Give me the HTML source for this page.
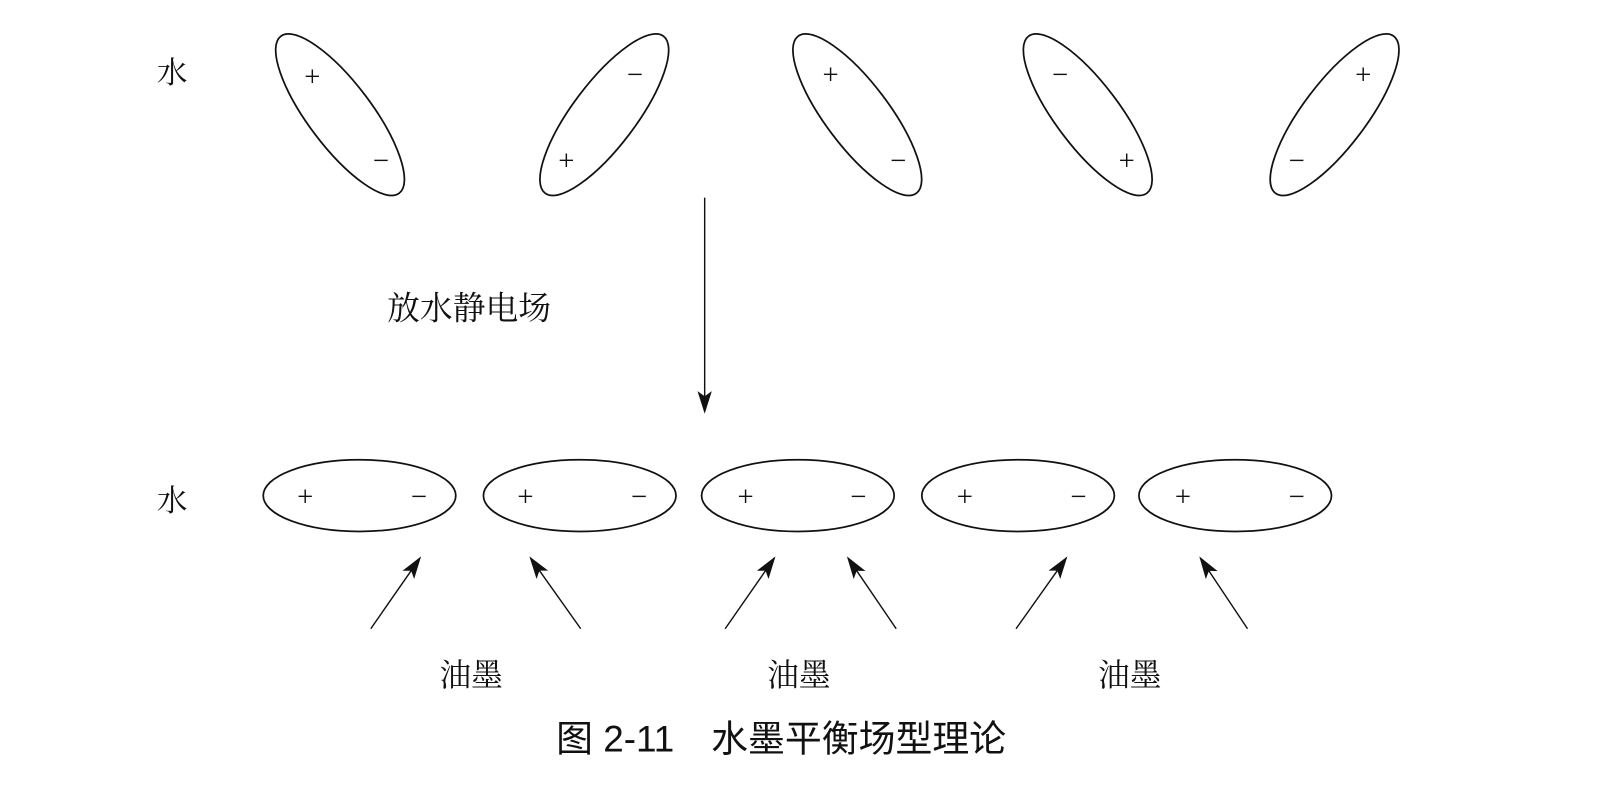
<!DOCTYPE html>
<html><head><meta charset="utf-8"><style>
html,body{margin:0;padding:0;background:#fff;}
svg{display:block;}
text{font-family:"Liberation Serif","Noto Serif CJK SC","Noto Sans CJK SC",serif;fill:#111;}
.s{font-family:"Liberation Sans","Noto Sans CJK SC",sans-serif;}
</style></head><body>
<svg width="1606" height="810" viewBox="0 0 1568 791" preserveAspectRatio="none" xmlns="http://www.w3.org/2000/svg">
<defs>
<marker id="ah2" markerWidth="22" markerHeight="14" refX="20" refY="7" orient="auto" markerUnits="userSpaceOnUse"><path d="M0,0 L22,7 L0,14 L5,7 z" fill="#111"/></marker></defs>
<g fill="none" stroke="#111" stroke-width="1.7">
<ellipse cx="332" cy="112" rx="31" ry="96" transform="rotate(-37 332 112)"/>
<ellipse cx="590" cy="112" rx="31" ry="96" transform="rotate(37 590 112)"/>
<ellipse cx="837" cy="112" rx="31" ry="96" transform="rotate(-37 837 112)"/>
<ellipse cx="1062" cy="112" rx="31" ry="96" transform="rotate(-37 1062 112)"/>
<ellipse cx="1303" cy="112" rx="31" ry="96" transform="rotate(37 1303 112)"/>
<ellipse cx="351" cy="484" rx="94" ry="35"/>
<ellipse cx="566" cy="484" rx="94" ry="35"/>
<ellipse cx="779" cy="484" rx="94" ry="35"/>
<ellipse cx="994" cy="484" rx="94" ry="35"/>
<ellipse cx="1206" cy="484" rx="94" ry="35"/>
<line x1="688" y1="193" x2="688" y2="402" stroke-width="1.4" marker-end="url(#ah2)"/>
<g stroke-width="1.4">
<line x1="362" y1="614" x2="410" y2="545" marker-end="url(#ah2)"/>
<line x1="567" y1="614" x2="518" y2="545" marker-end="url(#ah2)"/>
<line x1="708" y1="614" x2="756" y2="545" marker-end="url(#ah2)"/>
<line x1="875" y1="614" x2="828" y2="545" marker-end="url(#ah2)"/>
<line x1="992" y1="614" x2="1041" y2="545" marker-end="url(#ah2)"/>
<line x1="1218" y1="614" x2="1172" y2="545" marker-end="url(#ah2)"/>
</g>
</g>
<g font-size="28" text-anchor="middle" class="s">
<text x="305" y="84">+</text><text x="372" y="166">−</text>
<text x="620" y="82">−</text><text x="553" y="166">+</text>
<text x="811" y="82">+</text><text x="877" y="166">−</text>
<text x="1035" y="82">−</text><text x="1100" y="166">+</text>
<text x="1331" y="82">+</text><text x="1266" y="166">−</text>
<text x="298" y="494">+</text><text x="409" y="494">−</text>
<text x="513" y="494">+</text><text x="624" y="494">−</text>
<text x="728" y="494">+</text><text x="838" y="494">−</text>
<text x="942" y="494">+</text><text x="1053" y="494">−</text>
<text x="1155" y="494">+</text><text x="1266" y="494">−</text>
</g>
<text x="153" y="81" font-size="30">水</text>
<text x="153" y="499" font-size="30">水</text>
<text x="378" y="312" font-size="32">放水静电场</text>
<g font-size="31" text-anchor="middle">
<text x="460" y="670">油墨</text>
<text x="780" y="670">油墨</text>
<text x="1103" y="670">油墨</text>
</g>
<text x="543" y="734" font-size="36" class="s">图 2-11　水墨平衡场型理论</text>
</svg>
</body></html>
